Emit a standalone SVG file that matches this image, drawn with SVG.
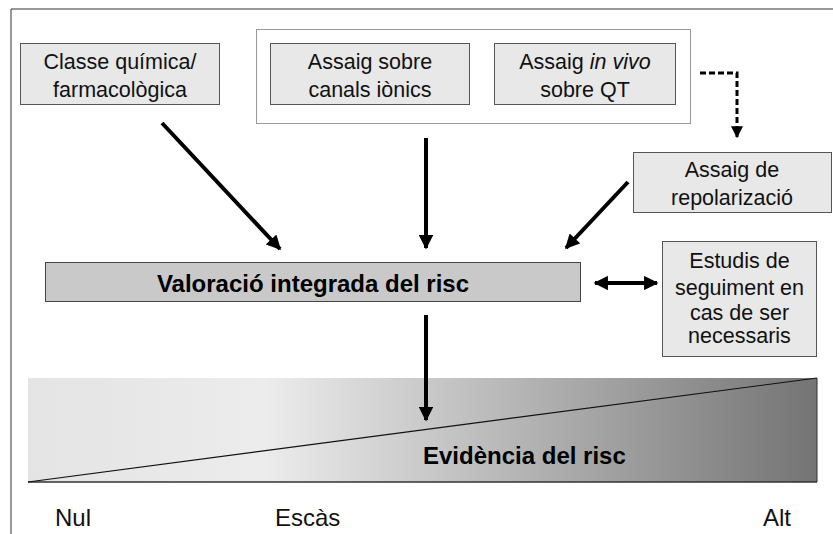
<svg xmlns="http://www.w3.org/2000/svg" width="833" height="534" viewBox="0 0 833 534">
<style>
.box{fill:#e8e8e8;stroke:#555;stroke-width:1}
.main{fill:#c9c9c9;stroke:#444;stroke-width:1}
.t{font-family:"Liberation Sans",Arial,sans-serif;font-size:21.5px;fill:#111;text-anchor:middle}
.b{font-family:"Liberation Sans",Arial,sans-serif;font-size:24px;font-weight:bold;fill:#000}
.s{font-family:"Liberation Sans",Arial,sans-serif;font-size:24px;fill:#111}
.a{stroke:#000;stroke-width:4;fill:none}
</style>
<defs>
<marker id="ah" viewBox="0 0 10 10" refX="9" refY="5" markerWidth="4" markerHeight="3.6" orient="auto" markerUnits="strokeWidth">
<path d="M0,0 L10,5 L0,10 z" fill="#000"/>
</marker>
<marker id="ahs" viewBox="0 0 10 10" refX="1" refY="5" markerWidth="4" markerHeight="3.6" orient="auto" markerUnits="strokeWidth">
<path d="M10,0 L0,5 L10,10 z" fill="#000"/>
</marker>
<marker id="ahd" viewBox="0 0 10 10" refX="9" refY="5" markerWidth="4" markerHeight="4" orient="auto" markerUnits="strokeWidth">
<path d="M0,0 L10,5 L0,10 z" fill="#000"/>
</marker>
<linearGradient id="g" x1="0" y1="0" x2="1" y2="0">
<stop offset="0" stop-color="#e4e4e4"/>
<stop offset="0.3" stop-color="#ececec"/>
<stop offset="1" stop-color="#747474"/>
</linearGradient>
</defs>

<g id="frame">
<line x1="11" y1="9" x2="833" y2="9" stroke="#333" stroke-width="1"/>
<line x1="11" y1="9" x2="11" y2="534" stroke="#333" stroke-width="1"/>
</g>

<g id="evidence-bar">
<rect x="28" y="378" width="789" height="104" fill="url(#g)"/>
<line x1="817" y1="378" x2="817" y2="482" stroke="#333" stroke-width="1"/>
<line x1="28" y1="482" x2="817" y2="482" stroke="#333" stroke-width="1.5"/>
<line x1="28" y1="482" x2="817" y2="378" stroke="#111" stroke-width="1.2"/>
<text class="b" x="423" y="464">Evidència del risc</text>
<text class="s" x="55" y="526">Nul</text>
<text class="s" x="275" y="526">Escàs</text>
<text class="s" x="763" y="526">Alt</text>
</g>

<g id="group-assays">
<rect x="256.5" y="29.5" width="434" height="94" fill="#fff" stroke="#999" stroke-width="1"/>
</g>

<g id="classe">
<rect class="box" x="20.5" y="43.5" width="199" height="61"/>
<text class="t" x="120" y="69">Classe química/</text>
<text class="t" x="120" y="97">farmacològica</text>
</g>

<g id="canals">
<rect class="box" x="270.5" y="43.5" width="199" height="61"/>
<text class="t" x="370" y="69">Assaig sobre</text>
<text class="t" x="370" y="97">canals iònics</text>
</g>

<g id="invivo">
<rect class="box" x="494.5" y="43.5" width="181" height="61"/>
<text class="t" x="585" y="69">Assaig <tspan font-style="italic">in vivo</tspan></text>
<text class="t" x="585" y="97">sobre QT</text>
</g>

<g id="repol">
<rect class="box" x="633.5" y="152.5" width="198" height="60"/>
<text class="t" x="732" y="177">Assaig de</text>
<text class="t" x="732" y="205">repolarizació</text>
</g>

<g id="valoracio">
<rect class="main" x="45.5" y="262.5" width="535" height="39"/>
<text class="b" x="313" y="292" text-anchor="middle">Valoració integrada del risc</text>
</g>

<g id="estudis">
<rect class="box" x="662.5" y="241.5" width="154" height="115"/>
<text class="t" x="739.5" y="268">Estudis de</text>
<text class="t" x="739.5" y="295">seguiment en</text>
<text class="t" x="739.5" y="320">cas de ser</text>
<text class="t" x="739.5" y="343">necessaris</text>
</g>

<g id="connectors">
<line class="a" x1="162" y1="123" x2="280" y2="249" marker-end="url(#ah)"/>
<line class="a" x1="426" y1="138" x2="426" y2="248" marker-end="url(#ah)"/>
<line class="a" x1="628" y1="182" x2="566" y2="248" marker-end="url(#ah)"/>
<line class="a" x1="595" y1="283" x2="657" y2="283" marker-start="url(#ahs)" marker-end="url(#ah)"/>
<line class="a" x1="426" y1="315" x2="426" y2="420" marker-end="url(#ah)"/>
<path d="M700,73 H737 V137" fill="none" stroke="#000" stroke-width="3" stroke-dasharray="6,3" marker-end="url(#ahd)"/>
</g>
</svg>
